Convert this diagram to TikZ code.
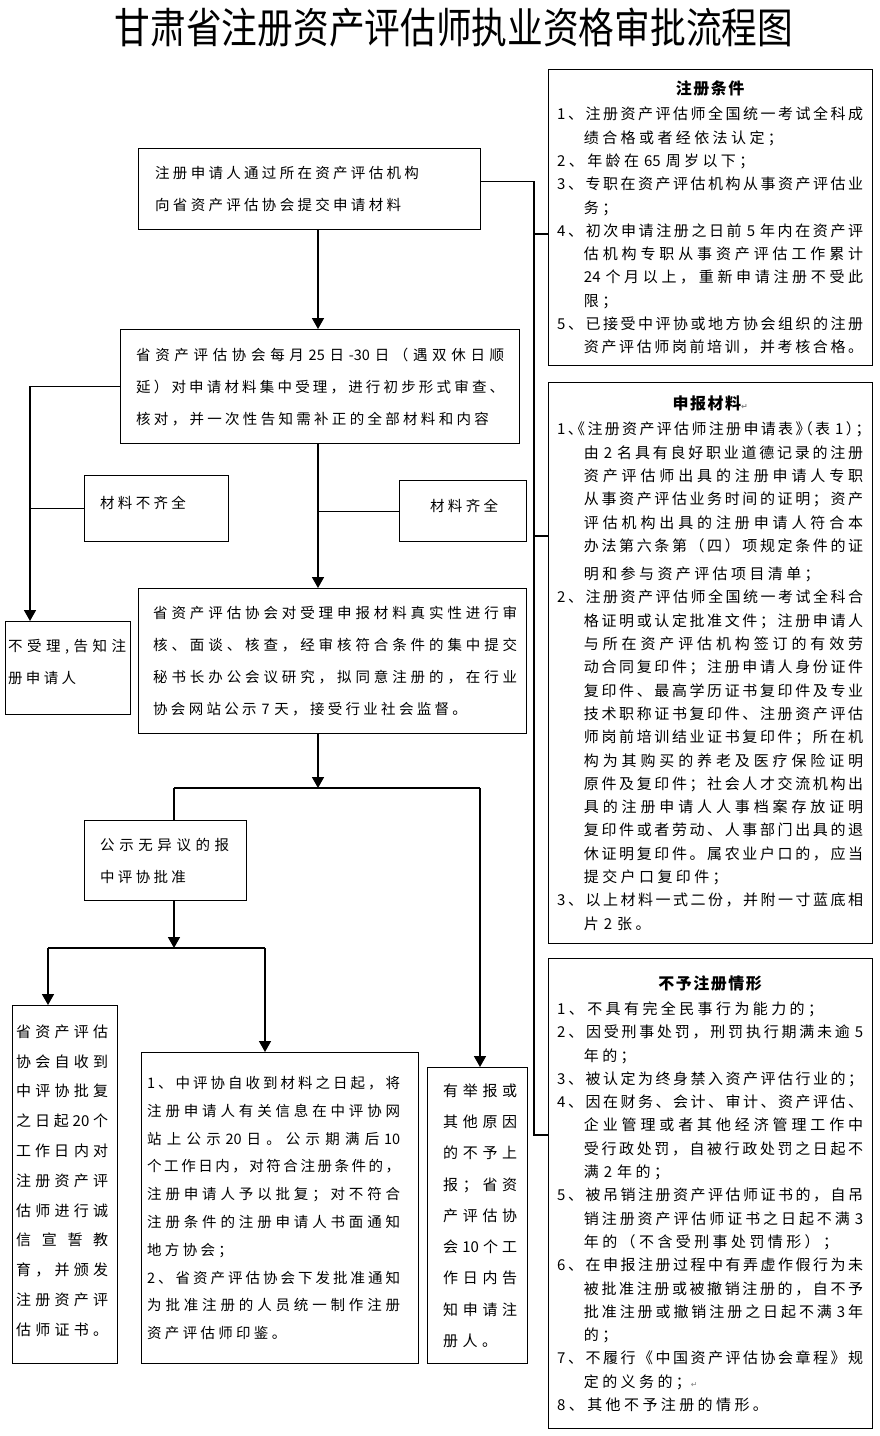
\documentclass[tikz,border=0pt]{standalone}
\usepackage{fontspec}
\setmainfont{Noto Sans CJK SC}
\newfontfamily\titlefont[FakeStretch=0.85]{Noto Sans CJK SC}
\newfontfamily\symfont{DejaVu Sans}
\usetikzlibrary{arrows.meta}

% 汉字之间的字距（可伸缩，用于两端对齐）
\newskip\cjkskip
\newcount\cjkc
\XeTeXinterchartokenstate=1
\cjkc="3000 \loop\ifnum\cjkc<"3040 \XeTeXcharclass\cjkc=7 \advance\cjkc by 1 \repeat
\cjkc="4E00 \loop\ifnum\cjkc<"A000 \XeTeXcharclass\cjkc=7 \advance\cjkc by 1 \repeat
\cjkc="FF00 \loop\ifnum\cjkc<"FFF0 \XeTeXcharclass\cjkc=7 \advance\cjkc by 1 \repeat
\XeTeXinterchartoks 7 7 = {\nobreak\hskip\cjkskip\relax}
\XeTeXinterchartoks 0 7 = {\nobreak\hskip\cjkskip\relax}
\XeTeXinterchartoks 7 0 = {\nobreak\hskip\cjkskip\relax}

% 字体
\newcommand{\headfont}{\fontsize{42}{44}\titlefont\cjkskip=0pt\relax}
\newcommand{\flowfont}{\fontsize{14.5}{32}\selectfont\cjkskip=3.3pt plus 4pt minus 2pt\relax}
\newcommand{\pubfont}{\fontsize{14.5}{27.8}\selectfont\cjkskip=3.3pt plus 4pt minus 2pt\relax}
\newcommand{\tallfont}[1]{\fontsize{15}{#1}\selectfont\cjkskip=4.5pt plus 6pt minus 2pt\relax}
\newcommand{\sidefont}{\fontsize{15}{23.3}\selectfont\cjkskip=3.4pt plus 4pt minus 2pt\relax}

% 行
\newcommand{\fullrow}[1]{\makebox[\hsize][s]{#1}}
\newcommand{\cont}{\phantom{1、}}
\newcommand{\sidehead}[1]{\makebox[\hsize]{\fontsize{16}{16}\selectfont\bfseries\cjkskip=1.5pt\relax #1}}
\newcommand{\retmark}{{\symfont\fontsize{8}{8}\selectfont\color{gray}↵}}

\begin{document}
\begin{tikzpicture}[x=1pt,y=-1pt,
    box/.style={draw, line width=1.2pt, anchor=north west, inner sep=0pt},
    wh/.style 2 args={minimum width=#1, minimum height=#2},
    txt/.style={anchor=west, inner sep=0pt, align=left},
    arr/.style={line width=1.6pt, -{Triangle[width=12pt,length=11pt]}},
    link/.style={line width=1.1pt}]

    \fill[white] (0,0) rectangle (879,1436);
    \useasboundingbox (0,0) rectangle (879,1436);

    % 标题
    \node[font=\headfont] (title) at (454,28) {甘肃省注册资产评估师执业资格审批流程图};

    % 流程框
    \node[box, wh={342}{81}]  (apply)   at (138,148)  {};
    \node[box, wh={399}{114}] (accept)  at (120,329)  {};
    \node[box, wh={144}{66}]  (lack)    at (84,475)   {};
    \node[box, wh={127}{61}]  (full)    at (399,480)  {};
    \node[box, wh={388}{145}] (review)  at (138,588)  {};
    \node[box, wh={125}{93}]  (reject)  at (5,621)    {};
    \node[box, wh={162}{80}]  (approve) at (84,820)   {};
    \node[box, wh={105}{358}] (issue)   at (12,1005)  {};
    \node[box, wh={277}{311}] (publish) at (141,1052) {};
    \node[box, wh={100}{296}] (refuse)  at (427,1067) {};

    % 右侧说明框
    \node[box, wh={324}{296}] (cond) at (548,69)  {};
    \node[box, wh={324}{561}] (mats) at (548,382) {};
    \node[box, wh={324}{470}] (deny) at (548,958) {};

    % 文字
    \node[txt, font=\flowfont, text width=320] (applytxt) at ([xshift=17]apply.west)
        {注册申请人通过所在资产评估机构\\
         向省资产评估协会提交申请材料};
    \node[txt, font=\flowfont, text width=368] (accepttxt) at ([xshift=16]accept.west)
        {\fullrow{省资产评估协会每月~25~日-30~日（遇双休日顺}\\
         \fullrow{延）对申请材料集中受理，进行初步形式审查、}\\
         核对，并一次性告知需补正的全部材料和内容};
    \node[txt, font=\flowfont, text width=112] (lacktxt) at ([xshift=16,yshift=6]lack.west) {材料不齐全};
    \node[txt, font=\flowfont, text width=80] (fulltxt) at ([xshift=31,yshift=5]full.west) {材料齐全};
    \node[txt, font=\flowfont, text width=364] (reviewtxt) at ([xshift=15]review.west)
        {\fullrow{省资产评估协会对受理申报材料真实性进行审}\\
         \fullrow{核、面谈、核查，经审核符合条件的集中提交}\\
         \fullrow{秘书长办公会议研究，拟同意注册的，在行业}\\
         协会网站公示~7~天，接受行业社会监督。};
    \node[txt, font=\flowfont, text width=118] (rejecttxt) at ([xshift=3,yshift=6]reject.west)
        {\fullrow{不受理,告知注}\\
         册申请人};
    \node[txt, font=\flowfont, text width=129] (approvetxt) at ([xshift=16]approve.west)
        {\fullrow{公示无异议的报}\\
         中评协批准};
    \node[txt, font=\tallfont{29.8}, text width=92] (issuetxt) at ([xshift=4,yshift=4]issue.west)
        {\fullrow{省资产评估}\\ \fullrow{协会自收到}\\ \fullrow{中评协批复}\\
         \fullrow{之日起20个}\\ \fullrow{工作日~内对}\\ \fullrow{注册资产评}\\
         \fullrow{估师进行诚}\\ \fullrow{信宣誓教}\\ \fullrow{育，并颁发}\\
         \fullrow{注册资产评}\\ 估师证书。};
    \node[txt, font=\pubfont, text width=253] (publishtxt) at ([xshift=6]publish.west)
        {\fullrow{1、中评协自收到材料之日起，将}\\
         \fullrow{注册申请人有关信息在中评协网}\\
         \fullrow{站上公示~20~日。公示期满后~10}\\
         \fullrow{个工作日内，对符合注册条件的，}\\
         \fullrow{注册申请人予以批复；对不符合}\\
         \fullrow{注册条件的注册申请人书面通知}\\
         地方协会；\\
         \fullrow{2、省资产评估协会下发批准通知}\\
         \fullrow{为批准注册的人员统一制作注册}\\
         资产评估师印鉴。};
    \node[txt, font=\tallfont{31.25}, text width=74] (refusetxt) at ([xshift=16]refuse.west)
        {\fullrow{有举报或}\\ \fullrow{其他原因}\\ \fullrow{的不予上}\\
         \fullrow{报；省资}\\ \fullrow{产评估协}\\ \fullrow{会10个工}\\
         \fullrow{作日内告}\\ \fullrow{知申请注}\\ 册人。};

    \node[txt, font=\sidefont, text width=306] (condtxt) at ([xshift=9]cond.west)
        {\sidehead{注册条件}\\[2pt]
         \fullrow{1、注册资产评估师全国统一考试全科成}\\
         \cont 绩合格或者经依法认定；\\
         2、年龄在~65~周岁以下；\\
         \fullrow{3、专职在资产评估机构从事资产评估业}\\
         \cont 务；\\
         \fullrow{4、初次申请注册之日前~5~年内在资产评}\\
         \fullrow{\cont 估机构专职从事资产评估工作累计}\\
         \fullrow{\cont 24~个月以上，重新申请注册不受此}\\
         \cont 限；\\
         \fullrow{5、已接受中评协或地方协会组织的注册}\\
         \cont 资产评估师岗前培训，并考核合格。};
    \node[txt, font=\sidefont, text width=306] (matstxt) at ([xshift=9]mats.west)
        {\sidehead{申报材料\retmark}\\[2pt]
         \fullrow{\addfontfeature{RawFeature=+halt}1、《注册资产评估师注册申请表》（表~1）；}\\
         \fullrow{\cont 由~2~名具有良好职业道德记录的注册}\\
         \fullrow{\cont 资产评估师出具的注册申请人专职}\\
         \fullrow{\cont 从事资产评估业务时间的证明；资产}\\
         \fullrow{\cont 评估机构出具的注册申请人符合本}\\
         \fullrow{\cont 办法第六条第（四）项规定条件的证}\\[5pt]
         \cont 明和参与资产评估项目清单；\\
         \fullrow{2、注册资产评估师全国统一考试全科合}\\
         \fullrow{\cont 格证明或认定批准文件；注册申请人}\\
         \fullrow{\cont 与所在资产评估机构签订的有效劳}\\
         \fullrow{\cont 动合同复印件；注册申请人身份证件}\\
         \fullrow{\cont 复印件、最高学历证书复印件及专业}\\
         \fullrow{\cont 技术职称证书复印件、注册资产评估}\\
         \fullrow{\cont 师岗前培训结业证书复印件；所在机}\\
         \fullrow{\cont 构为其购买的养老及医疗保险证明}\\
         \fullrow{\cont 原件及复印件；社会人才交流机构出}\\
         \fullrow{\cont 具的注册申请人人事档案存放证明}\\
         \fullrow{\cont 复印件或者劳动、人事部门出具的退}\\
         \fullrow{\cont 休证明复印件。属农业户口的，应当}\\
         \cont 提交户口复印件；\\
         \fullrow{3、以上材料一式二份，并附一寸蓝底相}\\
         \cont 片~2~张。};
    \node[txt, font=\sidefont, text width=306] (denytxt) at ([xshift=9]deny.west)
        {\sidehead{不予注册情形}\\[2pt]
         1、不具有完全民事行为能力的；\\
         \fullrow{2、因受刑事处罚，刑罚执行期满未逾~5}\\
         \cont 年的；\\
         \fullrow{3、被认定为终身禁入资产评估行业的；}\\
         \fullrow{4、因在财务、会计、审计、资产评估、}\\
         \fullrow{\cont 企业管理或者其他经济管理工作中}\\
         \fullrow{\cont 受行政处罚，自被行政处罚之日起不}\\
         \cont 满~2~年的；\\
         \fullrow{5、被吊销注册资产评估师证书的，自吊}\\
         \fullrow{\cont 销注册资产评估师证书之日起不满~3}\\
         \cont 年的（不含受刑事处罚情形）；\\
         \fullrow{6、在申报注册过程中有弄虚作假行为未}\\
         \fullrow{\cont 被批准注册或被撤销注册的，自不予}\\
         \fullrow{\cont 批准注册或撤销注册之日起不满~3年}\\
         \cont 的；\\
         \fullrow{7、不履行《中国资产评估协会章程》规}\\
         \cont 定的义务的；\retmark\\
         8、其他不予注册的情形。};

    % 连线用的点
    \coordinate (spine) at (318,0);
    \coordinate (lx) at (30,0);
    \coordinate (c1) at (534,234);
    \coordinate (c2) at (534,536);
    \coordinate (c3) at (534,1135);
    \coordinate (bar1l) at (174,788);
    \coordinate (bar1r) at (480,788);
    \coordinate (bar2l) at (48,948);
    \coordinate (bar2r) at (265,948);

    % 主线
    \draw[arr] (apply.south -| spine) -- (accept.north -| spine);
    \draw[arr] (accept.west) -| (reject.north -| lx);
    \draw[link] (lack.west) -- (lack.west -| lx);
    \draw[arr] (accept.south -| spine) -- (review.north -| spine);
    \draw[link] (full.west) -- (full.west -| spine);
    \draw[arr] (review.south -| spine) -- (spine |- bar1l);
    \draw[link] (bar1l) -- (bar1r);
    \draw[link] (bar1l) -- (approve.north -| bar1l);
    \draw[arr] (bar1r) -- (refuse.north -| bar1r);
    \draw[arr] (approve.south -| bar1l) -- (bar1l |- bar2l);
    \draw[link] (bar2l) -- (bar2r);
    \draw[arr] (bar2l) -- (issue.north -| bar2l);
    \draw[arr] (bar2r) -- (publish.north -| bar2r);

    % 右侧说明
    \draw[link] ([yshift=8]apply.east) -| (c3) -- (c3 -| deny.west);
    \draw[link] (c1) -- (c1 -| cond.west);
    \draw[link] (c2) -- (c2 -| mats.west);
\end{tikzpicture}
\end{document}
